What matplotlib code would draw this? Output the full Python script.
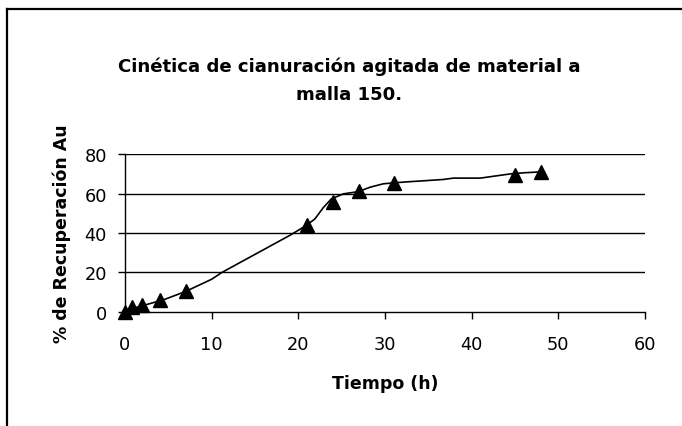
import matplotlib
matplotlib.use("Agg")
import matplotlib.pyplot as plt
from matplotlib.lines import Line2D

plt.rcParams['font.family'] = ['DejaVu Sans']

# Measured recovery of gold (%) versus agitation time (h)
tiempo = [0, 0.8, 2, 4, 7, 21, 24, 27, 31, 45, 48]
recuperacion = [0, 2.5, 3.6, 5.8, 10.7, 44, 56, 61.2, 65.6, 69.6, 71]

# Fitted kinetic curve
curva_t = [0, 1, 2, 4.6, 7, 10, 11.2, 19.1, 20.9, 21.9, 22.9, 23.8, 25.2,
           26.9, 28.3, 29.8, 31, 32.9, 34, 36.7, 37.9, 41, 44.4, 46, 47.3, 48]
curva_r = [0, 1.8, 3.0, 6.3, 10.3, 16.5, 20, 39, 43.8, 47.1, 53, 57.3, 59.9,
           61, 63.3, 65, 65.5, 66.1, 66.4, 67.2, 67.9, 67.9, 70, 70.6, 70.9, 71.2]

x_ticks = [0, 10, 20, 30, 40, 50, 60]
y_ticks = [0, 20, 40, 60, 80]

W, H = 682, 427
fig = plt.figure(figsize=(W / 100, H / 100), dpi=100)

# Outer chart border (extends past the right and bottom edges)
fig.add_artist(Line2D([7 / W, 7 / W], [-0.05, 1 - 10 / H],
                      transform=fig.transFigure, color='black', lw=1.6))
fig.add_artist(Line2D([7 / W, 1.05], [1 - 10 / H, 1 - 10 / H],
                      transform=fig.transFigure, color='black', lw=1.6))

ax = fig.add_axes([125 / W, 1 - 312.7 / H, 520 / W, 157.4 / H])
ax.set_xlim(0, 60)
ax.set_ylim(0, 80)

for yv in y_ticks[1:]:
    ax.axhline(yv, color='black', lw=1.0, zorder=1)

ax.plot(curva_t, curva_r, color='black', lw=1.2, zorder=2)
ax.plot(tiempo, recuperacion, linestyle='none', marker='^', color='black',
        markersize=10.5, clip_on=False, zorder=3)

ax.set_xticks(x_ticks)
ax.set_yticks(y_ticks)
ax.tick_params(axis='both', direction='out', length=5, width=1,
               labelsize=12.8, colors='black')
ax.tick_params(axis='x', pad=12)
ax.tick_params(axis='y', pad=8)

for s in ['top', 'right']:
    ax.spines[s].set_visible(False)
for s in ['left', 'bottom']:
    ax.spines[s].set_linewidth(1.0)

ax.set_xlabel('Tiempo (h)', fontsize=12.5, fontweight='bold', labelpad=15)
ax.set_ylabel('% de Recuperación Au', fontsize=12.5, fontweight='bold',
              labelpad=10)

fig.text(349 / W, 1 - 67 / H, 'Cinética de cianuración agitada de material a',
         ha='center', va='center', fontsize=13.1, fontweight='bold')
fig.text(349 / W, 1 - 95 / H, 'malla 150.',
         ha='center', va='center', fontsize=13.1, fontweight='bold')

fig.savefig('out.png', dpi=100)
